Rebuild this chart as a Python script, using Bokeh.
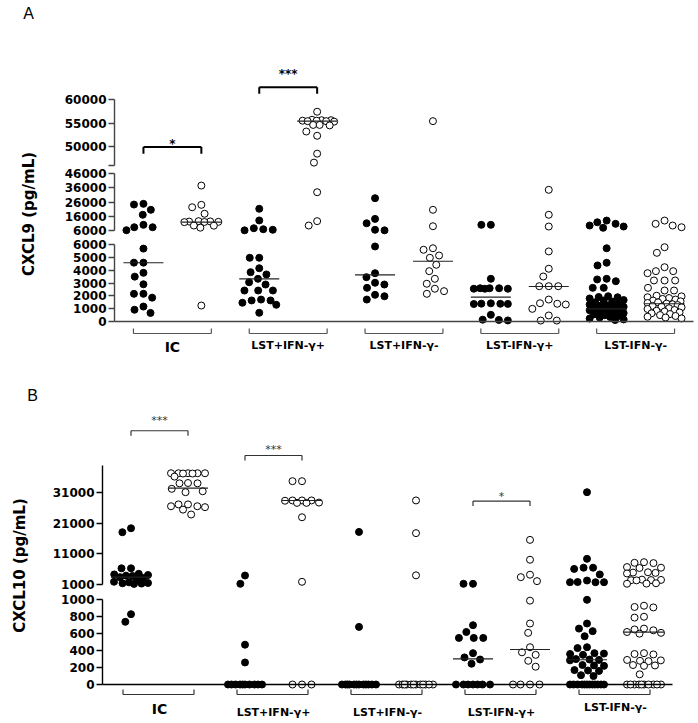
import numpy as np
from bokeh.plotting import figure
from bokeh.models import Range1d, LinearAxis, FixedTicker, Label
from bokeh.layouts import column
from bokeh.embed import file_html
from bokeh.resources import INLINE
from bokeh.core.properties import value

categories = ["IC", "LST+IFN-γ+", "LST+IFN-γ-", "LST-IFN-γ+", "LST-IFN-γ-"]

# ---------------- Panel A: CXCL9 (pg/mL) ----------------
cxcl9_ic_filled = [24800, 24300, 20600, 17100, 10000, 8300, 8300, 6200, 5700, 4600, 4600,
                   3800, 3500, 2900, 2150, 2150, 1850, 1150, 900, 650]
cxcl9_ic_open = [37700, 24100, 22400, 17800, 12600, 12400, 12300, 12100, 12000, 11900,
                 9500, 9400, 8000, 1230]
cxcl9_lstp_ifnp_filled = [21300, 13100, 7600, 6900, 6500, 6100, 4980, 4980, 4160, 3850, 3670,
                          3330, 3060, 2880, 2410, 2410, 2410, 1700, 1630, 1630, 1450, 1290, 660]
cxcl9_lstp_ifnp_open = [57400, 55700, 55600, 55600, 55500, 55500, 55400, 55400, 55300,
                        54600, 54600, 54500, 53200, 52300, 48500, 46600, 33000, 12600, 9500]
cxcl9_lstp_ifnn_filled = [28800, 14200, 11100, 6500, 6100, 5870, 3770, 3460, 3020, 2880,
                          2620, 2070, 1960, 1700]
cxcl9_lstp_ifnn_open = [55400, 20600, 9000, 5730, 5610, 5160, 4980, 4430, 3930, 3330,
                        2940, 2550, 2360, 2150]
cxcl9_lstn_ifnp_filled = [10000, 10000, 3330, 2590, 2590, 2590, 2550, 2550, 2550, 1400,
                          1380, 1370, 1360, 1350, 500, 120, 100, 60]
cxcl9_lstn_ifnp_open = [34700, 17100, 8800, 5480, 4120, 3510, 2750, 2750, 2750, 1700, 1410,
                        1370, 1310, 970, 450, 50, 50]
cxcl9_lstn_ifnn_filled = [13000, 11800, 10700, 9500, 8800, 7900, 5730, 4590, 4380, 3330,
                          3280, 3140, 2620, 2620, 1960, 1900, 1880, 1790, 1660, 1620, 1540,
                          1480, 1370, 1310, 1240, 1220, 1130, 1060, 990, 960, 910, 860, 780,
                          720, 640, 610, 530, 470, 420, 330, 290, 210, 140, 90]
cxcl9_lstn_ifnn_open = [13000, 10700, 9500, 8300, 5810, 5370, 4240, 3930, 3930, 3770, 3200,
                        3200, 3200, 2620, 2410, 2410, 2000, 1950, 1880, 1820, 1750, 1700,
                        1620, 1560, 1480, 1430, 1380, 1330, 1270, 1200, 1140, 1090, 1020,
                        960, 880, 820, 760, 690, 620, 560, 480, 410, 350, 290, 220]
cxcl9_medians = [4590, 11860, 3330, 55400, 3640, 4710, 1885, 2725, 970, 1370]
cxcl9_ticks_up = [46000, 50000, 55000, 60000]
cxcl9_ticklabels_up = ["", "50000", "55000", "60000"]
cxcl9_ticks_mid = [6000, 16000, 26000, 36000, 46000]
cxcl9_ticklabels_mid = ["6000", "16000", "26000", "36000", "46000"]
cxcl9_ticks_low = [0, 1000, 2000, 3000, 4000, 5000, 6000]
cxcl9_ticklabels_low = ["0", "1000", "2000", "3000", "4000", "5000", "6000"]
# (left column, right column, bracket level, star level, text)
cxcl9_sig = [(0, 1, 49900, 50450, "*"), (2, 3, 62600, 65450, "***")]

# ---------------- Panel B: CXCL10 (pg/mL) ----------------
cxcl10_ic_filled = [19400, 18100, 6300, 6300, 4500, 4300, 4100, 3900, 3800, 3400, 3100,
                    2600, 1900, 1700, 1500, 1400, 1300, 1200, 830, 740]
cxcl10_ic_open = [37400, 37400, 37400, 37400, 37300, 37300, 37400, 36300, 34200, 34100,
                  34100, 32300, 31500, 31200, 27200, 27200, 26600, 26600, 26300, 25500, 23900]
cxcl10_lstp_ifnp_filled = [3940, 1230, 470, 260, 0, 0, 0, 0, 0, 0, 0, 0, 0, 0]
cxcl10_lstp_ifnp_open = [34800, 34800, 28500, 28500, 28500, 28400, 27800, 27700, 27700,
                         23000, 1880, 0, 0, 0]
cxcl10_lstp_ifnn_filled = [18200, 680, 0, 0, 0, 0, 0, 0, 0, 0, 0, 0, 0, 0]
cxcl10_lstp_ifnn_open = [28500, 17800, 4000, 0, 0, 0, 0, 0, 0, 0, 0, 0, 0, 0, 0]
cxcl10_lstn_ifnp_filled = [1230, 1230, 700, 620, 550, 550, 550, 370, 320, 295, 245,
                           0, 0, 0, 0, 0, 0, 0]
cxcl10_lstn_ifnp_open = [15600, 9100, 4200, 3400, 2100, 990, 720, 610, 440, 380, 350, 280,
                         210, 0, 0, 0, 0]
cxcl10_lstn_ifnn_filled = [31200, 9400, 6500, 6500, 6100, 4300, 2300, 1800, 1750, 1750, 1750,
                           1000, 720, 660, 630, 570, 440, 430, 370, 365, 360, 350, 300, 295,
                           290, 285, 230, 225, 220, 170, 165, 160, 110, 100,
                           0, 0, 0, 0, 0, 0, 0, 0, 0, 0, 0, 0]
cxcl10_lstn_ifnn_open = [8300, 8100, 8000, 6700, 6500, 6400, 5000, 4900, 4800, 4600, 2600,
                         2500, 2450, 2400, 2350, 1400, 1300, 1250, 930, 915, 910, 800, 790,
                         660, 650, 640, 620, 610, 600, 370, 360, 355, 290, 285, 280, 275,
                         230, 225, 220, 120, 0, 0, 0, 0, 0, 0, 0, 0, 0, 0]
cxcl10_medians = [3390, 32500, 0, 28480, 0, 0, 303, 413, 292, 618]
cxcl10_ticks_up = [1000, 11000, 21000, 31000]
cxcl10_ticklabels_up = ["1000", "11000", "21000", "31000"]
cxcl10_ticks_low = [0, 200, 400, 600, 800, 1000]
cxcl10_ticklabels_low = ["0", "200", "400", "600", "800", "1000"]
cxcl10_sig = [(0, 1, 51300, 54550, "***"), (2, 3, 43200, 45050, "***"), (6, 7, 28300, 29700, "*")]

W = 698
FONT = "DejaVu Sans"


def swarm(ypx, D=9.5, maxhalf=17.0):
    ypx = np.asarray(ypx, float)
    offs = np.zeros(len(ypx))
    placed = []
    for i in np.argsort(ypx, kind="stable"):
        y = ypx[i]
        iv = []
        for qx, qy in placed:
            dy = abs(qy - y)
            if dy < D:
                dx = np.sqrt(D * D - dy * dy)
                iv.append((qx - dx, qx + dx))
        cands = [0.0] + [a for a, b in iv] + [b for a, b in iv]
        cands.sort(key=lambda c: (abs(c), c))
        best = None
        for c in cands:
            if abs(c) <= maxhalf + 1e-9 and all(not (a + 1e-9 < c < b - 1e-9) for a, b in iv):
                best = c
                break
        if best is None:
            grid = np.linspace(-maxhalf, maxhalf, 69)
            best = max(grid, key=lambda c: min((c - qx) ** 2 + (y - qy) ** 2 for qx, qy in placed))
        offs[i] = best
        placed.append((best, y))
    return offs


def make_panel(cfg):
    H, ppu = cfg["height"], cfg["ppu"]
    segs = {}
    for name, (v1, y1, v2, y2, bounds, ticks, labels) in cfg["segs"].items():
        segs[name] = dict(v1=v1, y1=y1, k=(v2 - v1) / (y2 - y1), bounds=bounds,
                          ticks=ticks, labels=labels)

    def val(n, y):
        s = segs[n]
        return s["v1"] + (y - s["y1"]) * s["k"]

    def px(n, v):
        s = segs[n]
        return s["y1"] + (v - s["v1"]) / s["k"]

    def xd(ref_x):
        return (ref_x - cfg["axis_x"]) / ppu - 0.5

    x0 = xd(0)
    p = figure(width=W, height=H, x_range=Range1d(x0, x0 + W / ppu),
               y_range=Range1d(val("low", H), val("low", 0)),
               x_axis_location=None, y_axis_location=None, toolbar_location=None,
               output_backend="svg", min_border_left=0, min_border_right=0,
               min_border_top=0, min_border_bottom=0)
    p.outline_line_color = None
    for g in p.grid:
        g.visible = False
    p.extra_y_ranges = {n: Range1d(val(n, H), val(n, 0)) for n in segs}
    ac = cfg["axis_color"]

    for n, s in segs.items():
        ax = LinearAxis(y_range_name=n, fixed_location=-0.5, bounds=s["bounds"],
                        ticker=FixedTicker(ticks=s["ticks"]),
                        major_label_overrides={float(t): l for t, l in zip(s["ticks"], s["labels"])},
                        major_tick_out=6, major_tick_in=0, minor_tick_out=0, minor_tick_in=0,
                        major_label_standoff=2, axis_line_color=ac, major_tick_line_color=ac,
                        axis_line_width=1.4, major_tick_line_width=1.4,
                        major_label_text_font=FONT, major_label_text_font_style="bold",
                        major_label_text_font_size="12px", major_label_text_color="black")
        p.add_layout(ax, "left")
    xa = LinearAxis(y_range_name="low", fixed_location=0, bounds=(-0.5, cfg["x_end"]),
                    ticker=FixedTicker(ticks=[]),
                    major_tick_out=0, major_tick_in=0, minor_tick_out=0, minor_tick_in=0,
                    axis_line_color=ac, axis_line_width=1.4, major_label_text_font_size="0px")
    p.add_layout(xa, "below")

    # dots
    for i, vals in enumerate(cfg["series"]):
        vals = np.asarray(vals, float)
        names = [cfg["seg_of"](v) for v in vals]
        ypx = np.array([px(n, v) for n, v in zip(names, vals)])
        xs = i + swarm(ypx) / ppu
        filled = (i % 2 == 0)
        for n in segs:
            m = np.array([nn == n for nn in names])
            if not m.any():
                continue
            p.scatter(xs[m], vals[m], y_range_name=n, size=7, marker="circle",
                      fill_color="black" if filled else "white", line_color="black",
                      line_width=1)
    # medians
    hw = 20 / ppu
    for i, med in enumerate(cfg["medians"]):
        n = cfg["seg_of"](med)
        p.segment(x0=[i - hw], x1=[i + hw], y0=[med], y1=[med], y_range_name=n,
                  line_color="#222222", line_width=1.2)

    # significance brackets
    for (a, b, lev, star, txt) in cfg["sig"]:
        leg = val("up", px("up", lev) + cfg["sig_leg"])
        p.segment(x0=[a, a, b], x1=[b, a, b], y0=[lev, lev, lev], y1=[lev, leg, leg],
                  y_range_name="up", line_color=cfg["sig_color"], line_width=cfg["sig_width"])
        p.text(x=[(a + b) / 2], y=[star], text=[txt], y_range_name="up",
               text_font=value(FONT), text_font_style=cfg["star_style"],
               text_font_size=cfg["star_size"], text_align="center", text_baseline="middle",
               text_color=cfg["sig_color"])

    # category brackets and labels under the x axis
    y0 = px("low", 0)
    lp, rp = cfg["cat_pad"]
    for g, cat in enumerate(categories):
        xa0, xa1 = 2 * g - lp / ppu, 2 * g + 1 + rp / ppu
        yt, yl = val("low", y0 + cfg["cat_leg"][0]), val("low", y0 + cfg["cat_leg"][1])
        p.segment(x0=[xa0, xa0, xa1], x1=[xa1, xa0, xa1], y0=[yl, yl, yl], y1=[yl, yt, yt],
                  y_range_name="low", line_color=cfg["cat_color"], line_width=1.2)
        p.text(x=[2 * g + 0.5], y=[val("low", y0 + cfg["cat_label_off"][g])], text=[cat],
               y_range_name="low", text_font=value(FONT), text_font_style="bold",
               text_font_size="14px" if g == 0 else "11px", text_align="center",
               text_baseline="middle", text_color="black")

    # y-axis title and panel letter
    tx, ty, tseg = cfg["ytitle_pos"]
    p.add_layout(Label(x=xd(tx), y=val(tseg, ty), y_range_name=tseg, text=cfg["ytitle"],
                       angle=np.pi / 2, text_align="center", text_baseline="middle",
                       text_font=FONT, text_font_style="bold", text_font_size="15px",
                       text_color="black"))
    lx, ly = cfg["letter_pos"]
    p.add_layout(Label(x=xd(lx), y=val("up", ly), y_range_name="up", text=cfg["letter"],
                       text_align="center", text_baseline="middle", text_font="Liberation Sans",
                       text_font_size="16px", text_color="black"))
    return p


cfgA = dict(
    height=368, ppu=57.9, axis_x=114, x_end=9.5,
    segs={"up": (50000, 146.1, 60000, 99.0, (46000, 60000), cxcl9_ticks_up, cxcl9_ticklabels_up),
          "mid": (6000, 230.0, 46000, 173.3, (6000, 46000), cxcl9_ticks_mid, cxcl9_ticklabels_mid),
          "low": (0, 320.7, 6000, 244.3, (0, 6000), cxcl9_ticks_low, cxcl9_ticklabels_low)},
    seg_of=lambda v: "up" if v >= 46000 else ("mid" if v >= 6000 else "low"),
    series=[cxcl9_ic_filled, cxcl9_ic_open, cxcl9_lstp_ifnp_filled, cxcl9_lstp_ifnp_open,
            cxcl9_lstp_ifnn_filled, cxcl9_lstp_ifnn_open, cxcl9_lstn_ifnp_filled,
            cxcl9_lstn_ifnp_open, cxcl9_lstn_ifnn_filled, cxcl9_lstn_ifnn_open],
    medians=cxcl9_medians, sig=cxcl9_sig, sig_leg=6.6, sig_color="black", sig_width=2,
    star_style="bold", star_size="12px",
    cat_pad=(10, 10), cat_leg=(7.3, 12.3), cat_color="#555555",
    cat_label_off=[26, 24, 24, 24, 24],
    axis_color="#444444", ytitle="CXCL9 (pg/mL)", ytitle_pos=(28, 213.5, "mid"),
    letter="A", letter_pos=(28, 13),
)

cfgB = dict(
    height=355, ppu=57.0, axis_x=102, x_end=9.5,
    segs={"up": (1000, 216.0, 31000, 124.3, (1000, 40000), cxcl10_ticks_up, cxcl10_ticklabels_up),
          "low": (0, 316.0, 1000, 231.3, (0, 1000), cxcl10_ticks_low, cxcl10_ticklabels_low)},
    seg_of=lambda v: "up" if v > 1000 else "low",
    series=[cxcl10_ic_filled, cxcl10_ic_open, cxcl10_lstp_ifnp_filled, cxcl10_lstp_ifnp_open,
            cxcl10_lstp_ifnn_filled, cxcl10_lstp_ifnn_open, cxcl10_lstn_ifnp_filled,
            cxcl10_lstn_ifnp_open, cxcl10_lstn_ifnn_filled, cxcl10_lstn_ifnn_open],
    medians=cxcl10_medians, sig=cxcl10_sig, sig_leg=5, sig_color="#333333", sig_width=1.2,
    star_style="normal", star_size="11px",
    cat_pad=(8, 6), cat_leg=(5, 10), cat_color="#333333",
    cat_label_off=[24, 28, 28, 28, 23],
    axis_color="black", ytitle="CXCL10 (pg/mL)", ytitle_pos=(19, 197, "up"),
    letter="B", letter_pos=(32, 27),
)

pA = make_panel(cfgA)
pB = make_panel(cfgB)
layout = column(pA, pB, spacing=0)
open("out.html", "w").write(file_html(layout, INLINE))
